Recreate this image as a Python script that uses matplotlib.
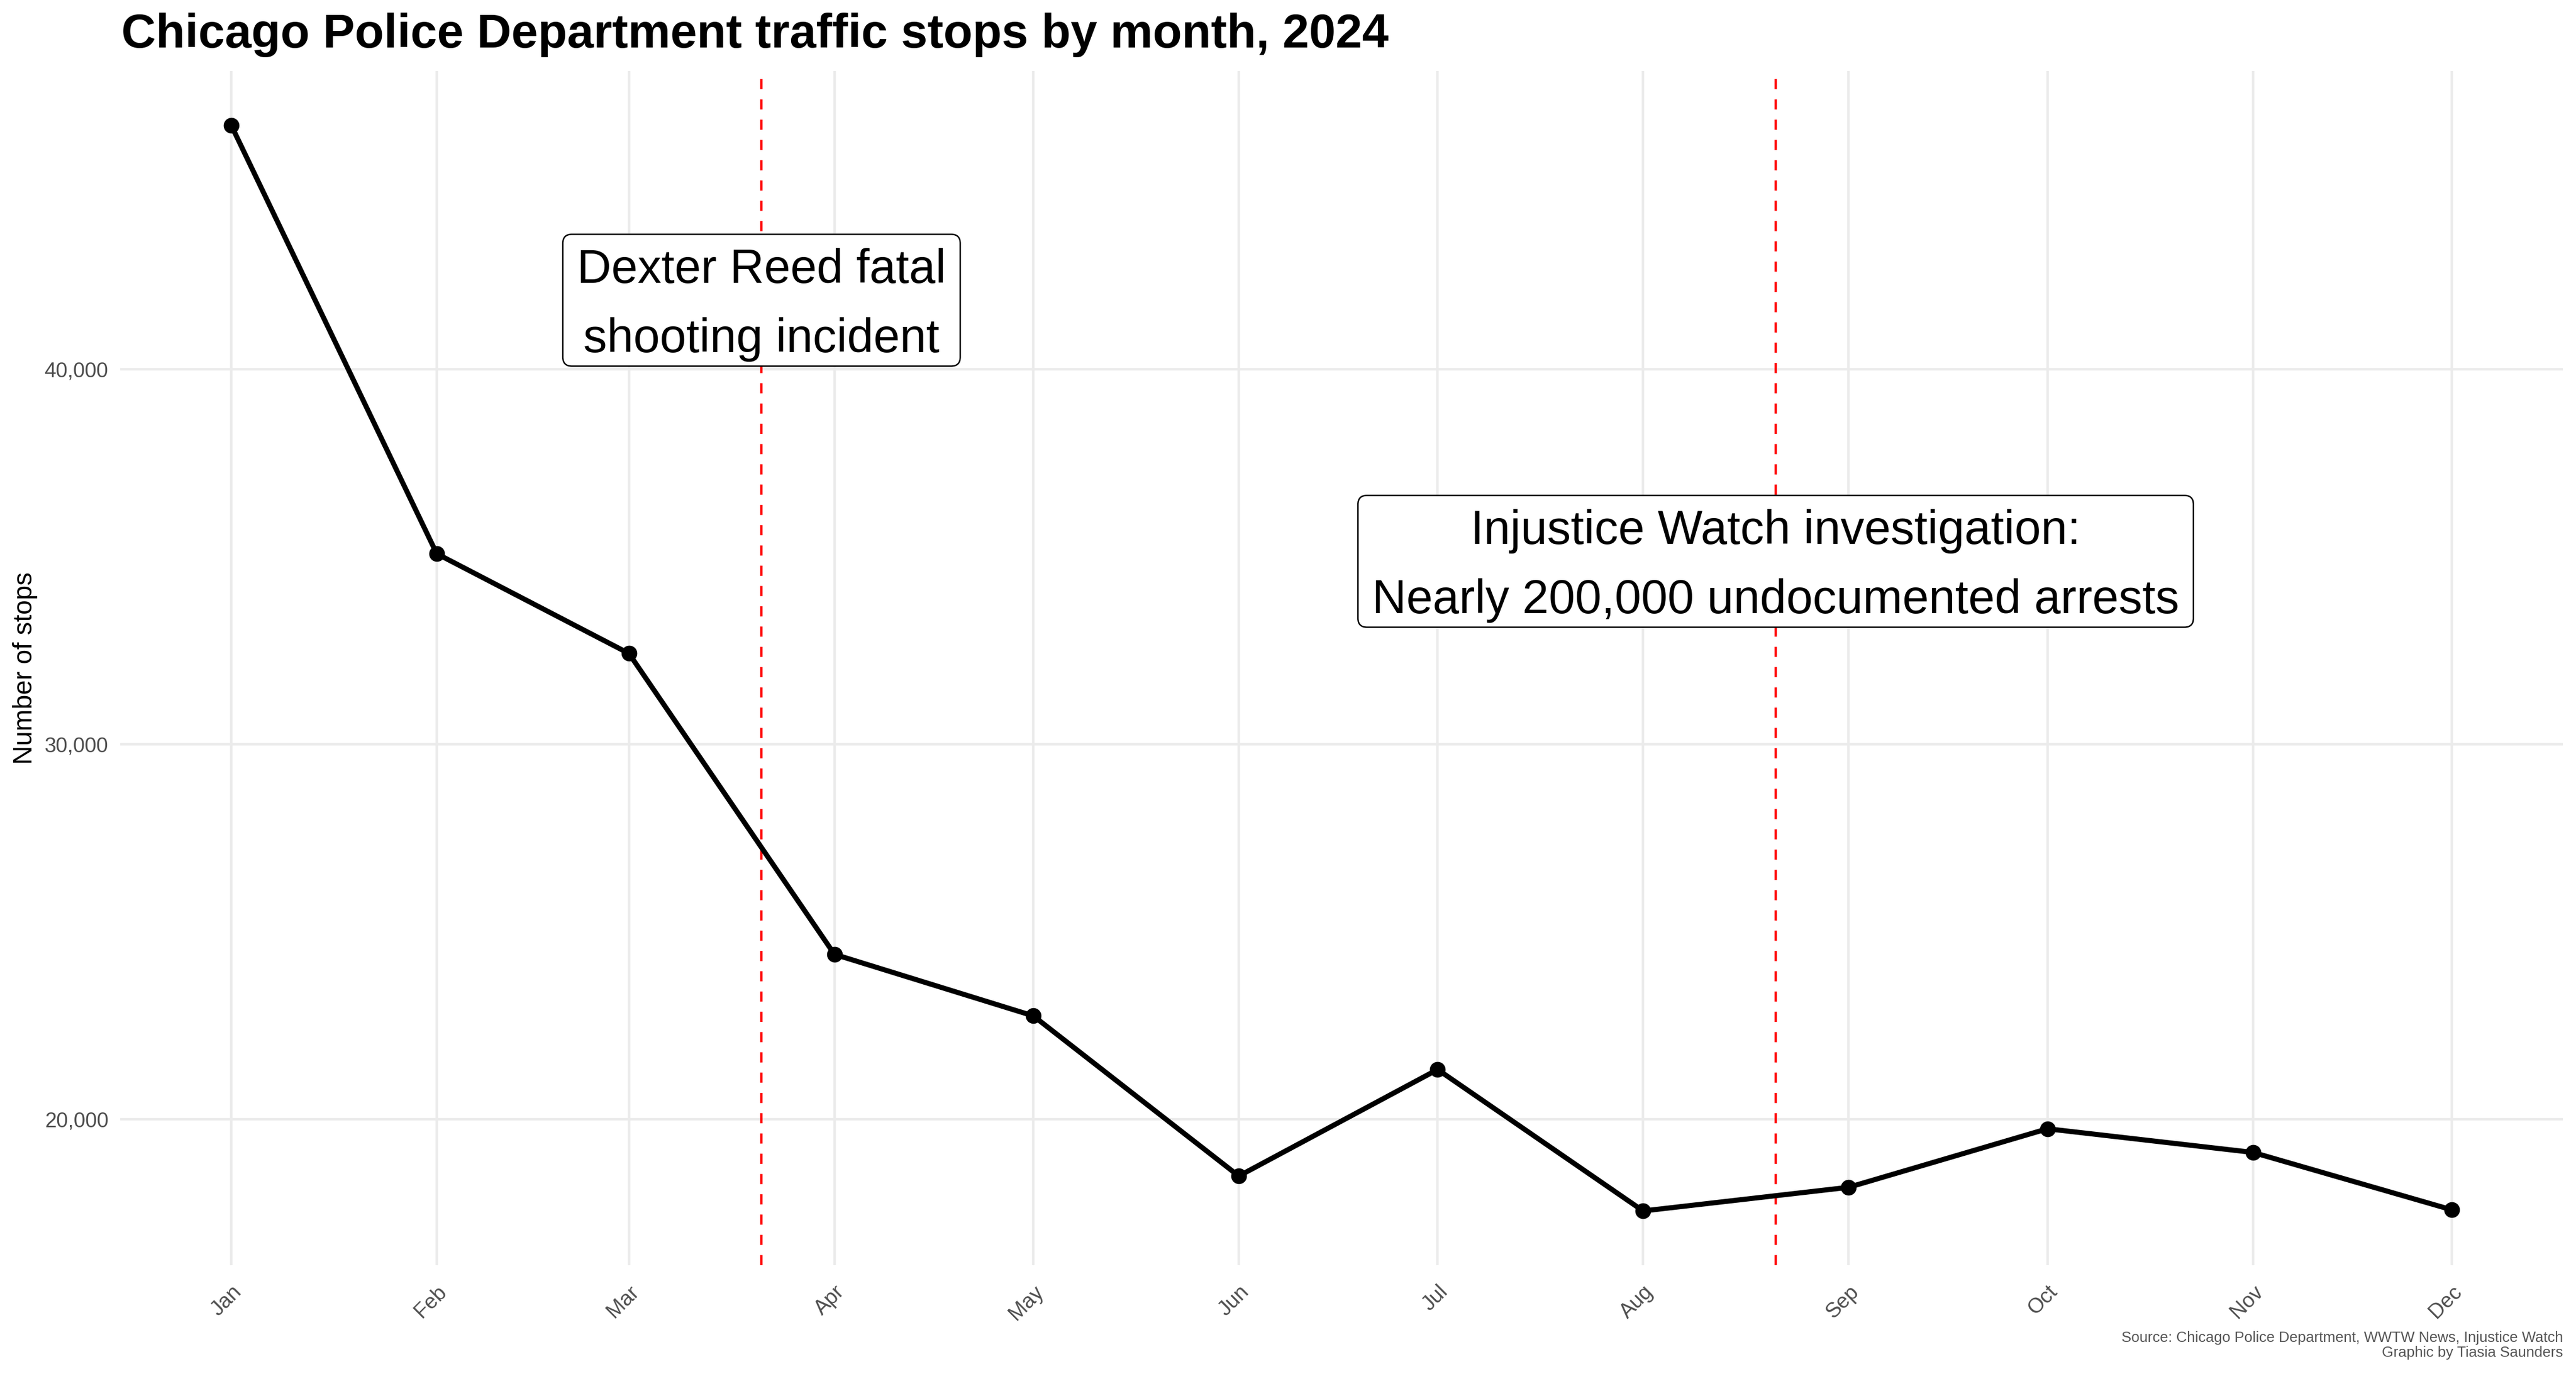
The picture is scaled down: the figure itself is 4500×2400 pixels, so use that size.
import matplotlib
matplotlib.use("Agg")
import matplotlib.pyplot as plt
import matplotlib.dates as mdates
from matplotlib.ticker import FuncFormatter, FixedLocator
from matplotlib.patches import BoxStyle
import pandas as pd

# ---- data ----
month_dates = ["2024-01-01", "2024-02-01", "2024-03-01", "2024-04-01", "2024-05-01", "2024-06-01",
               "2024-07-01", "2024-08-01", "2024-09-01", "2024-10-01", "2024-11-01", "2024-12-01"]
month_labels = ["Jan", "Feb", "Mar", "Apr", "May", "Jun", "Jul", "Aug", "Sep", "Oct", "Nov", "Dec"]
stops = [46500, 35080, 32420, 24400, 22760, 18490, 21330, 17560, 18190, 19750, 19120, 17590]

event_dates = ["2024-03-21", "2024-08-21"]
event_labels = ["Dexter Reed fatal\nshooting incident",
                "Injustice Watch investigation:\nNearly 200,000 undocumented arrests"]
event_label_y = [41710, 34750]

y_ticks = [20000, 30000, 40000]

title = "Chicago Police Department traffic stops by month, 2024"
y_title = "Number of stops"
caption_lines = ["Source: Chicago Police Department, WWTW News, Injustice Watch",
                 "Graphic by Tiasia Saunders"]

# ---- style ----
plt.rcParams["font.family"] = ["Liberation Sans", "DejaVu Sans"]
W, H = 4500, 2400
fig = plt.figure(figsize=(15, 8), dpi=300)
L, R, T, B = 210, 4477, 124, 2210
ax = fig.add_axes([L / W, 1 - B / H, (R - L) / W, (B - T) / H])

x = mdates.date2num(pd.to_datetime(month_dates))
ex = mdates.date2num(pd.to_datetime(event_dates))

ax.plot(x, stops, color="black", lw=2.13, zorder=3, solid_joinstyle="round", solid_capstyle="round")
ax.plot(x, stops, "o", color="black", markersize=5.6, zorder=3.5)

for d in ex:
    ax.axvline(d, color="red", lw=1.0, ls=(0, (4.25, 4.25)), zorder=2)


def label_box(x0, y0, width, height, mutation_size):
    """Rounded box with separate horizontal / top / bottom padding (like ggplot geom_label)."""
    px = 0.30 * mutation_size
    pt = 0.29 * mutation_size
    pb = 0.09 * mutation_size
    rnd = BoxStyle.Round(pad=0, rounding_size=0.19)
    return rnd(x0 - px, y0 - pb, width + 2 * px, height + pt + pb, mutation_size)


for d, yv, lab in zip(ex, event_label_y, event_labels):
    ax.text(d, yv, lab, ha="center", va="center", fontsize=19.9, linespacing=1.7,
            zorder=5,
            bbox=dict(boxstyle=label_box, fc="white", ec="black", lw=0.6))

# limits with ggplot-like 5% expansion
xr = x[-1] - x[0]
ax.set_xlim(x[0] - 0.05 * xr, x[-1] + 0.05 * xr)
yr = max(stops) - min(stops)
ax.set_ylim(min(stops) - 0.05 * yr, max(stops) + 0.05 * yr)

ax.xaxis.set_major_locator(FixedLocator(x))
ax.set_xticklabels(month_labels)
ax.yaxis.set_major_locator(FixedLocator(y_ticks))
ax.yaxis.set_major_formatter(FuncFormatter(lambda v, p: f"{v:,.0f}"))

ax.grid(True, color="#EBEBEB", lw=1.07)
ax.set_axisbelow(True)
for s in ax.spines.values():
    s.set_visible(False)

ax.tick_params(axis="both", length=0, labelsize=8.8, labelcolor="#4D4D4D")
ax.tick_params(axis="y", pad=5)
ax.tick_params(axis="x", pad=7)
for lbl in ax.get_xticklabels():
    lbl.set_rotation(45)
    lbl.set_rotation_mode("anchor")
    lbl.set_ha("right")
    lbl.set_va("top")

ax.set_ylabel(y_title, fontsize=11, color="black")
ax.yaxis.set_label_coords((66 - L) / (R - L), 0.5)

fig.text(212 / W, 1 - 83 / H, title, fontsize=20, fontweight="bold", ha="left", va="baseline")
fig.text(R / W, 1 - 2344 / H, caption_lines[0], fontsize=6.2, color="#555555", ha="right", va="baseline")
fig.text(R / W, 1 - 2370 / H, caption_lines[1], fontsize=6.2, color="#555555", ha="right", va="baseline")

fig.savefig("out.png", dpi=300, facecolor="white")
